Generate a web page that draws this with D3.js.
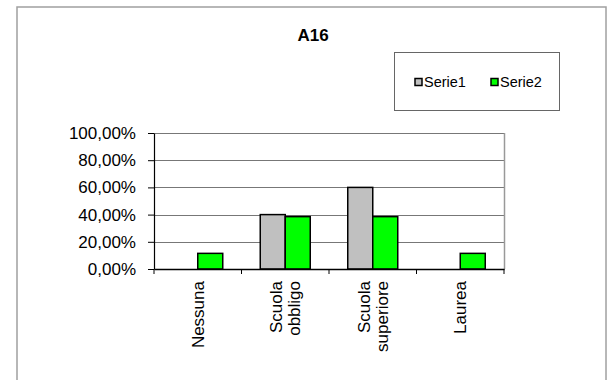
<!DOCTYPE html>
<html>
<head>
<meta charset="utf-8">
<script src="https://cdn.jsdelivr.net/npm/d3@7"></script>
<style>
  body { margin: 0; background: #fff; }
  text { font-family: "Liberation Sans", Arial, sans-serif; fill: #000; }
</style>
</head>
<body>
<script>
// data
const categories = ["Nessuna", "Scuola obbligo", "Scuola superiore", "Laurea"];
const seriesNames = ["Serie1", "Serie2"];
const serie1 = [0, 0.40, 0.60, 0];
const serie2 = [0.115, 0.385, 0.385, 0.115];
const yTicks = [0, 0.2, 0.4, 0.6, 0.8, 1.0];
const colors = ["#c0c0c0", "#00ff00"];

const rows = categories.map((c, i) => ({ cat: c, values: [serie1[i], serie2[i]] }));

const W = 613, H = 380;
const plot = { left: 154, right: 504, top: 133, bottom: 269 };

const svg = d3.select("body").append("svg")
    .attr("width", W)
    .attr("height", H);

// outer chart frame
svg.append("rect")
    .attr("x", 17).attr("y", 7)
    .attr("width", 589).attr("height", 400)
    .attr("fill", "#fff")
    .attr("stroke", "#a0a0a0")
    .attr("stroke-width", 1.5);

// title
svg.append("text")
    .attr("x", 313).attr("y", 41)
    .attr("text-anchor", "middle")
    .style("font-size", "17px")
    .style("font-weight", "bold")
    .text("A16");

// scales
const x0 = d3.scaleBand()
    .domain(categories)
    .range([plot.left, plot.right])
    .paddingInner(0).paddingOuter(0);

const x1 = d3.scaleBand()
    .domain(seriesNames)
    .range([0, x0.bandwidth()])
    .paddingInner(0)
    .paddingOuter(0.75);

const y = d3.scaleLinear()
    .domain([0, 1])
    .range([plot.bottom, plot.top]);

const itLocale = d3.formatLocale({ decimal: ",", thousands: ".", grouping: [3], currency: ["", "€"] });
const pct = itLocale.format(".2%");

// gridlines
svg.append("g")
    .selectAll("line")
    .data(yTicks.filter(d => d > 0))
    .join("line")
    .attr("x1", plot.left).attr("x2", plot.right)
    .attr("y1", d => Math.round(y(d)) + 0.5)
    .attr("y2", d => Math.round(y(d)) + 0.5)
    .attr("stroke", "#777")
    .attr("stroke-width", 1);

// right edge of plot area
svg.append("line")
    .attr("x1", plot.right + 0.5).attr("x2", plot.right + 0.5)
    .attr("y1", plot.top).attr("y2", plot.bottom)
    .attr("stroke", "#999")
    .attr("stroke-width", 1.5);

// bars
const groups = svg.append("g")
    .selectAll("g")
    .data(rows)
    .join("g")
    .attr("transform", d => `translate(${x0(d.cat)},0)`);

groups.selectAll("rect")
    .data(d => d.values.map((v, i) => ({ key: seriesNames[i], v: v, i: i })).filter(e => e.v > 0))
    .join("rect")
    .attr("x", d => x1(d.key))
    .attr("y", d => y(d.v))
    .attr("width", x1.bandwidth())
    .attr("height", d => y(0) - y(d.v))
    .attr("fill", d => colors[d.i])
    .attr("stroke", "#000")
    .attr("stroke-width", 1.5);

// y axis
const yAxis = svg.append("g")
    .attr("transform", `translate(${plot.left},0)`)
    .call(d3.axisLeft(y).tickValues(yTicks).tickFormat(pct).tickSizeInner(6).tickSizeOuter(0).tickPadding(12));
yAxis.select(".domain").attr("stroke", "#000").attr("stroke-width", 1.2);
yAxis.selectAll(".tick line").attr("stroke", "#000");
yAxis.selectAll("text")
    .style("font-size", "17px")
    .style("font-family", "'Liberation Sans', Arial, sans-serif")
    .attr("fill", "#000");

// x axis
const xAxis = svg.append("g")
    .attr("transform", `translate(0,${plot.bottom})`)
    .call(d3.axisBottom(x0).tickSizeOuter(0).tickFormat(""));
xAxis.select(".domain").attr("stroke", "#000").attr("stroke-width", 1.5);
// ticks at category boundaries instead of centers
xAxis.selectAll(".tick").remove();
xAxis.selectAll(".bound")
    .data(categories.map(c => x0(c)).concat([x0.range()[1]]))
    .join("line")
    .attr("class", "bound")
    .attr("x1", d => d).attr("x2", d => d)
    .attr("y1", 0).attr("y2", 5)
    .attr("stroke", "#000");

// rotated category labels
const lineH = 18;
const labels = svg.append("g")
    .selectAll("text")
    .data(categories)
    .join("text")
    .attr("transform", d => `translate(${x0(d) + x0.bandwidth() / 2},${plot.bottom + 12}) rotate(-90)`)
    .attr("text-anchor", "end")
    .style("font-size", "17px");

labels.each(function(d) {
    const words = d.split(" ");
    const t = d3.select(this);
    words.forEach((w, i) => {
        t.append("tspan")
            .attr("x", 0)
            .attr("y", (i - (words.length - 1) / 2) * lineH)
            .attr("dy", "0.35em")
            .text(w);
    });
});

// legend
const legend = svg.append("g");
legend.append("rect")
    .attr("x", 394.5).attr("y", 52.5)
    .attr("width", 165).attr("height", 58)
    .attr("fill", "#fff")
    .attr("stroke", "#666")
    .attr("stroke-width", 1);

const items = legend.selectAll("g")
    .data(seriesNames)
    .join("g")
    .attr("transform", (d, i) => `translate(${415 + i * 76},82)`);

items.append("rect")
    .attr("x", 0).attr("y", -3.5)
    .attr("width", 7).attr("height", 7)
    .attr("fill", (d, i) => colors[i])
    .attr("stroke", "#000")
    .attr("stroke-width", 1.5);

items.append("text")
    .attr("x", 9).attr("y", 0)
    .attr("dy", "0.35em")
    .style("font-size", "14.5px")
    .text(d => d);
</script>
</body>
</html>
